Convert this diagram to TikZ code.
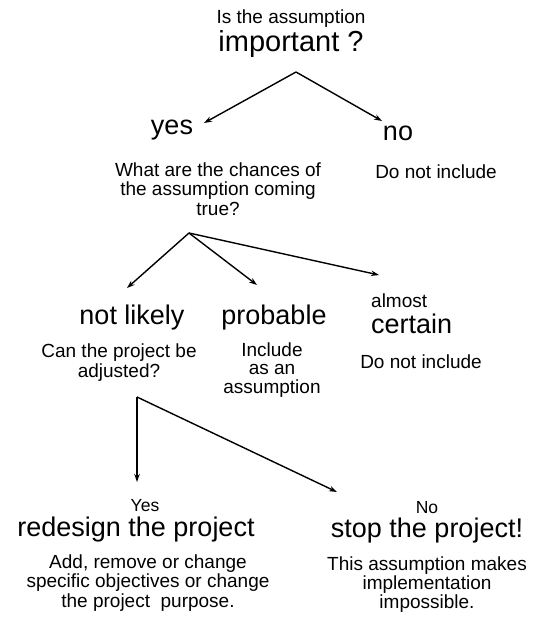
\documentclass[tikz,border=0pt]{standalone}
\usepackage{fontspec}
\setmainfont{Liberation Sans}
\usetikzlibrary{arrows.meta}
\begin{document}
\begin{tikzpicture}[x=1pt,y=-1pt,
  big/.style={font=\fontsize{27}{30}\selectfont, inner sep=0pt, anchor=base},
  small/.style={font=\fontsize{19}{19.5}\selectfont, inner sep=0pt, anchor=base, align=center},
  tiny/.style={font=\fontsize{17.5}{18}\selectfont, inner sep=0pt, anchor=base},
  arr/.style={line width=1.4pt, -{Stealth[length=8pt,width=5.5pt]}}]
\useasboundingbox (0,0) rectangle (536,623);
% top
\node[small] (q1a) at (291,24) {Is the assumption};
\node[big, font=\fontsize{29}{30}\selectfont] (q1b) at (291,52) {important ?};
\coordinate (f1) at (296,72);
\node[big] (yes) at (172,135) {yes};
\node[big] (no) at (398,140) {no};
\coordinate (yesT) at (204,123);
\coordinate (noT) at (382,121);
\draw[arr] (f1) -- (yesT);
\draw[arr] (f1) -- (noT);
\node[small] (q2) at (218,215) {What are the chances of\\the assumption coming\\true?};
\node[small] (noinc1) at (436,178) {Do not include};
% middle
\coordinate (f2) at (189,233);
\node[big] (nl) at (132,324) {not likely};
\node[big] (prob) at (274,324) {probable};
\node[small, anchor=base west, align=left] (alm) at (371,307) {almost};
\node[big, anchor=base west] (cert) at (371,333) {certain};
\coordinate (nlT) at (127,288);
\coordinate (probT) at (257,285);
\coordinate (certT) at (379,275);
\draw[arr] (f2) -- (nlT);
\draw[arr] (f2) -- (probT);
\draw[arr] (f2) -- (certT);
\node[small, font=\fontsize{19}{20}\selectfont] (q3) at (119,377) {Can the project be\\adjusted?};
\node[small, font=\fontsize{19}{18.5}\selectfont] (inc) at (272,393) {Include\\as an\\assumption};
\node[small] (noinc2) at (421,368) {Do not include};
% bottom
\coordinate (f3) at (137,397);
\coordinate (redT) at (137,482);
\coordinate (stopT) at (337,492);
\draw[arr] (f3) -- (redT);
\draw[arr] (f3) -- (stopT);
\node[tiny] (yl) at (145,511) {Yes};
\node[big] (red) at (136,536) {redesign the project};
\node[small] (redtxt) at (148,607) {Add, remove or change\\specific objectives or change\\the project\ \ purpose.};
\node[tiny] (nl2) at (427,513) {No};
\node[big] (stop) at (427,537) {stop the project!};
\node[small, font=\fontsize{19}{15.5}\selectfont] (stoptxt) at (427,608) {This assumption makes\\implementation\\impossible.};
\end{tikzpicture}
\end{document}
